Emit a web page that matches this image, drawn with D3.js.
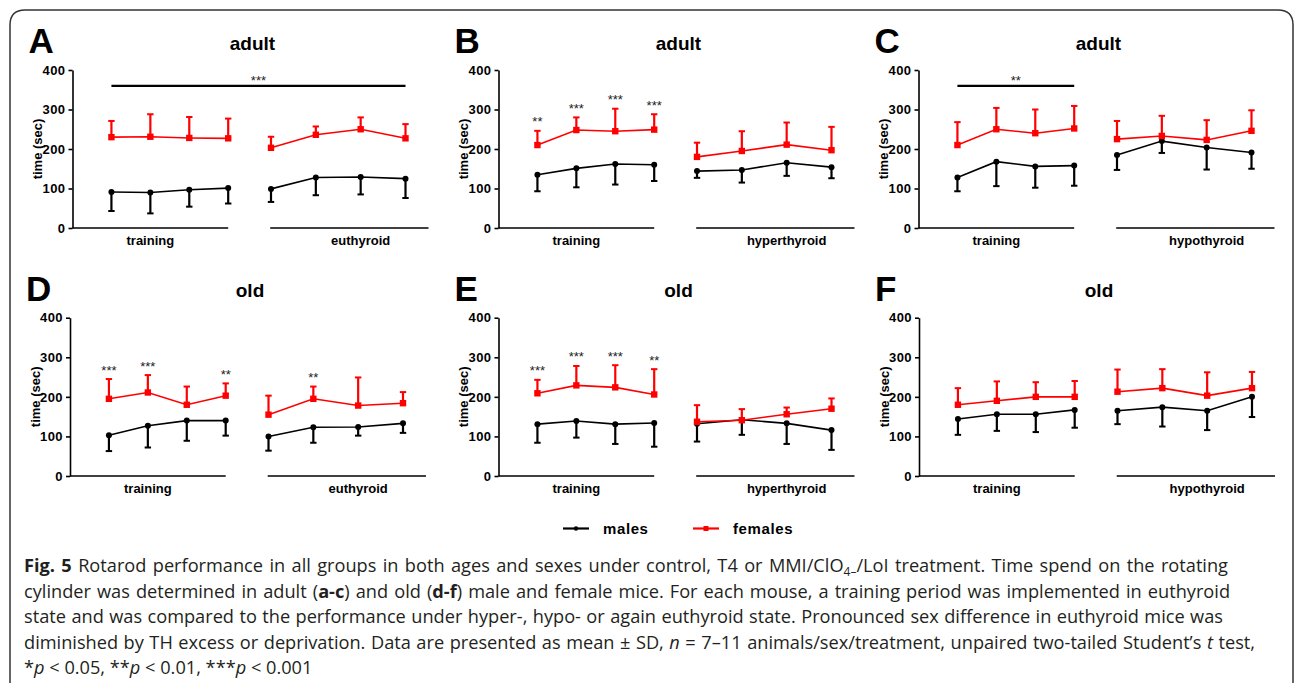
<!DOCTYPE html>
<html>
<head>
<meta charset="utf-8">
<script src="https://cdn.jsdelivr.net/npm/d3@7"></script>
<style>
  body { margin: 0; background: #fff; }
  svg text { font-family: "Liberation Sans", Arial, sans-serif; }
  .caption text { font-family: "Open Sans", sans-serif; }
</style>
</head>
<body>
<script>
// Panel info
const panelLetters = ["A", "B", "C", "D", "E", "F"];
const panelAges = ["adult", "adult", "adult", "old", "old", "old"];
const treatmentLabels = ["euthyroid", "hyperthyroid", "hypothyroid", "euthyroid", "hyperthyroid", "hypothyroid"];
const trainingLabel = "training";
const yTicks = [0, 100, 200, 300, 400];

// 8 points per panel: 4 training + 4 treatment
const maleMean = [
  [91, 90, 97, 101, 99, 128, 129, 125],
  [135, 151, 162, 160, 144, 147, 165, 154],
  [128, 168, 156, 158, 185, 220, 204, 191],
  [103, 127, 140, 140, 100, 123, 124, 133],
  [131, 139, 131, 134, 132, 142, 133, 116],
  [144, 156, 156, 167, 165, 174, 165, 200]
];
const maleSD = [
  [48, 53, 43, 39, 33, 45, 44, 49],
  [42, 48, 52, 41, 17, 32, 33, 28],
  [35, 62, 54, 51, 38, 30, 56, 41],
  [40, 55, 51, 38, 36, 39, 22, 24],
  [47, 42, 50, 60, 45, 38, 52, 50],
  [40, 42, 45, 45, 34, 49, 49, 51]
];
const femaleMean = [
  [230, 231, 228, 227, 203, 236, 250, 227],
  [210, 248, 245, 249, 180, 195, 211, 197],
  [210, 250, 240, 252, 225, 233, 223, 246],
  [195, 211, 180, 203, 155, 195, 178, 184],
  [209, 229, 224, 206, 137, 141, 156, 170],
  [180, 190, 200, 200, 213, 222, 203, 222]
];
const femaleSD = [
  [41, 57, 53, 50, 28, 21, 30, 36],
  [36, 32, 57, 39, 36, 50, 56, 59],
  [58, 54, 60, 57, 46, 51, 50, 52],
  [50, 44, 46, 31, 48, 31, 71, 28],
  [34, 49, 56, 64, 42, 28, 17, 26],
  [42, 49, 37, 40, 56, 48, 59, 41]
];
// significance marks above female points
const femaleStars = [
  ["", "", "", "", "", "", "", ""],
  ["**", "***", "***", "***", "", "", "", ""],
  ["", "", "", "", "", "", "", ""],
  ["***", "***", "", "**", "", "**", "", ""],
  ["***", "***", "***", "**", "", "", "", ""],
  ["", "", "", "", "", "", "", ""]
];
// bracket bars: panel, first point, last point, level, label
const sigBars = [
  { panel: 0, from: 0, to: 7, level: 360, label: "***" },
  { panel: 2, from: 0, to: 3, level: 360, label: "**" }
];

const red = "#ff0000";
const W = 1295, H = 683;

const svg = d3.select("body").append("svg")
  .attr("width", W)
  .attr("height", H);

// outer frame, open at the bottom
svg.append("path")
  .attr("d", "M10,700 V25 Q10,10 25,10 H1278 Q1293,10 1293,25 V700")
  .attr("fill", "none")
  .attr("stroke", "#333")
  .attr("stroke-width", 1.5);

const rowTop = [70, 317.7],
      rowBottom = [228, 476];
const panelX = [72.5, 498.5, 918.5, 70, 498.5, 919];

panelLetters.forEach((letter, p) => {
  const row = p < 3 ? 0 : 1;
  const y = d3.scaleLinear().domain([0, 400]).range([rowBottom[row], rowTop[row]]);
  const xTrain = d3.scaleLinear().domain([0, 4]).range([0, 155.7]);
  const xTreat = d3.scaleLinear().domain([0, 3]).range([198.5, 333]);
  const xPos = i => i < 4 ? xTrain(i + 1) : xTreat(i - 4);

  const g = svg.append("g").attr("transform", `translate(${panelX[p]},0)`);

  // panel letter + title
  g.append("text")
    .attr("x", -44).attr("y", rowTop[row] - 17)
    .attr("font-size", 35).attr("font-weight", "bold")
    .text(letter);
  g.append("text")
    .attr("x", 180).attr("y", rowTop[row] - 20.5)
    .attr("text-anchor", "middle")
    .attr("font-size", 19).attr("font-weight", "bold")
    .text(panelAges[p]);

  // y axis
  const yAxis = g.append("g")
    .call(d3.axisLeft(y).tickValues(yTicks).tickSize(4).tickSizeOuter(0).tickPadding(3));
  yAxis.select(".domain").attr("stroke", "#000").attr("stroke-width", 1.6);
  yAxis.selectAll(".tick line").attr("stroke", "#000").attr("stroke-width", 1.6);
  yAxis.selectAll(".tick text")
    .attr("font-family", "Liberation Sans, Arial, sans-serif")
    .attr("font-size", 13).attr("font-weight", "bold")
    .attr("letter-spacing", 0.4)
    .attr("fill", "#000");

  g.append("text")
    .attr("transform", `translate(-35,${(rowTop[row] + rowBottom[row]) / 2}) rotate(-90)`)
    .attr("text-anchor", "middle")
    .attr("dy", "0.35em")
    .attr("font-size", 13).attr("font-weight", "bold")
    .text("time (sec)");

  // broken x axis
  const x0 = y(0);
  [[0, 155.7], [197.7, 356]].forEach(s => {
    g.append("line")
      .attr("x1", s[0]).attr("x2", s[1])
      .attr("y1", x0).attr("y2", x0)
      .attr("stroke", "#000").attr("stroke-width", 1.6);
  });
  g.append("text")
    .attr("x", xTrain(2)).attr("y", x0 + 17)
    .attr("text-anchor", "middle")
    .attr("font-size", 13).attr("font-weight", "bold")
    .text(trainingLabel);
  g.append("text")
    .attr("x", xTreat(2)).attr("y", x0 + 17)
    .attr("text-anchor", "middle")
    .attr("font-size", 13).attr("font-weight", "bold")
    .text(treatmentLabels[p]);

  const line = d3.line().x(d => xPos(d.i)).y(d => y(d.v));
  const groups = [[0, 1, 2, 3], [4, 5, 6, 7]];

  // males (black) error bars go down, females (red) go up
  const males = maleMean[p].map((v, i) => ({ i, v, sd: maleSD[p][i] }));
  const females = femaleMean[p].map((v, i) => ({ i, v, sd: femaleSD[p][i] }));

  function drawSeries(data, color, dir) {
    const s = g.append("g");
    data.forEach(d => {
      const tip = y(d.v + dir * d.sd);
      s.append("line")
        .attr("x1", xPos(d.i)).attr("x2", xPos(d.i))
        .attr("y1", y(d.v)).attr("y2", tip)
        .attr("stroke", color).attr("stroke-width", 2.2);
      s.append("line")
        .attr("x1", xPos(d.i) - 3.2).attr("x2", xPos(d.i) + 3.2)
        .attr("y1", tip).attr("y2", tip)
        .attr("stroke", color).attr("stroke-width", 2);
    });
    groups.forEach(gi => {
      s.append("path")
        .attr("d", line(gi.map(i => data[i])))
        .attr("fill", "none")
        .attr("stroke", color).attr("stroke-width", 1.6);
    });
    return s;
  }

  const ms = drawSeries(males, "#000", -1);
  ms.selectAll("circle").data(males).join("circle")
    .attr("cx", d => xPos(d.i)).attr("cy", d => y(d.v))
    .attr("r", 3).attr("fill", "#000");

  const fs = drawSeries(females, red, 1);
  fs.selectAll("rect").data(females).join("rect")
    .attr("x", d => xPos(d.i) - 3.2).attr("y", d => y(d.v) - 3.2)
    .attr("width", 6.4).attr("height", 6.4)
    .attr("fill", red);

  // stars over female bars
  g.selectAll("text.star").data(females.filter(d => femaleStars[p][d.i]))
    .join("text")
    .attr("class", "star")
    .attr("x", d => xPos(d.i))
    .attr("y", d => y(d.v + d.sd) - 4.5)
    .attr("text-anchor", "middle")
    .attr("font-size", 13)
    .attr("fill", "#222")
    .text(d => femaleStars[p][d.i]);

  sigBars.filter(b => b.panel === p).forEach(b => {
    g.append("line")
      .attr("x1", xPos(b.from)).attr("x2", xPos(b.to))
      .attr("y1", y(b.level)).attr("y2", y(b.level))
      .attr("stroke", "#000").attr("stroke-width", 2.2);
    g.append("text")
      .attr("x", (xPos(b.from) + xPos(b.to)) / 2)
      .attr("y", y(b.level) - 0.5)
      .attr("text-anchor", "middle")
      .attr("font-size", 13)
      .attr("fill", "#222")
      .text(b.label);
  });
});

// legend
const legend = svg.append("g");
const legendItems = [
  { name: "males", color: "#000", x: 563, shape: "circle" },
  { name: "females", color: red, x: 693, shape: "rect" }
];
legendItems.forEach(it => {
  legend.append("line")
    .attr("x1", it.x).attr("x2", it.x + 26)
    .attr("y1", 528.5).attr("y2", 528.5)
    .attr("stroke", it.color).attr("stroke-width", 2.2);
  if (it.shape === "circle") {
    legend.append("circle").attr("cx", it.x + 13).attr("cy", 528.5).attr("r", 2.2).attr("fill", it.color);
  } else {
    legend.append("rect").attr("x", it.x + 10.5).attr("y", 526).attr("width", 5).attr("height", 5).attr("fill", it.color);
  }
  legend.append("text")
    .attr("x", it.x + 40).attr("y", 534)
    .attr("font-size", 15).attr("font-weight", "bold")
    .attr("letter-spacing", 0.6)
    .text(it.name);
});

// caption
const captionLines = [
  [["Fig. 5", "b"], [" Rotarod performance in all groups in both ages and sexes under control, T4 or MMI/ClO", ""], ["4", "sub"], ["\u2013", "sub"], ["/LoI treatment. Time spend on the rotating", ""]],
  [["cylinder was determined in adult (", ""], ["a-c", "b"], [") and old (", ""], ["d-f", "b"], [") male and female mice. For each mouse, a training period was implemented in euthyroid", ""]],
  [["state and was compared to the performance under hyper-, hypo- or again euthyroid state. Pronounced sex difference in euthyroid mice was", ""]],
  [["diminished by TH excess or deprivation. Data are presented as mean \u00b1 SD, ", ""], ["n", "i"], [" = 7\u201311 animals/sex/treatment, unpaired two-tailed Student\u2019s ", ""], ["t", "i"], [" test,", ""]],
  [["*", ""], ["p", "i"], [" < 0.05, **", ""], ["p", "i"], [" < 0.01, ***", ""], ["p", "i"], [" < 0.001", ""]]
];
// where each line ends in the figure (null: leave natural)
const captionEnds = [1228, 1230, 1223, 1255, null];
const capStart = 24;
const cap = svg.append("g").attr("class", "caption");
captionLines.forEach((segs, li) => {
  const t = cap.append("text")
    .attr("x", capStart)
    .attr("y", 572 + li * 25.6)
    .attr("font-size", 18.2)
    .attr("fill", "#231f20");
  let inSub = false;
  segs.forEach(([txt, st]) => {
    const ts = t.append("tspan").text(txt);
    if (st === "b") ts.attr("font-weight", "bold");
    if (st === "i") ts.attr("font-style", "italic");
    if (st === "sub") {
      ts.attr("font-size", 12);
      if (!inSub) ts.attr("dy", 4);
      inSub = true;
    } else if (inSub) {
      ts.attr("dy", -4);
      inSub = false;
    }
  });
  if (captionEnds[li] == null) return;
  // nudge word spacing so each line ends where it does in the figure
  const natural = t.node().getComputedTextLength();
  const spaces = segs.map(s => s[0]).join("").split(" ").length - 1;
  const extra = (captionEnds[li] - capStart - natural) / Math.max(spaces, 1);
  t.attr("word-spacing", extra);
});
</script>
</body>
</html>
